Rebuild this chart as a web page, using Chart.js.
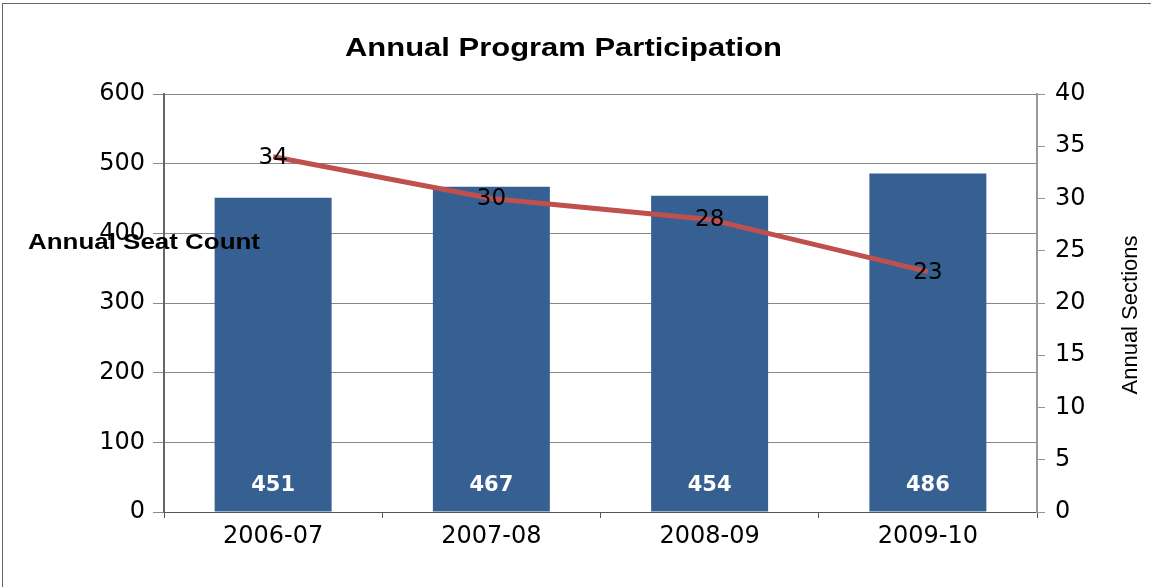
<!DOCTYPE html>
<html>
<head>
<meta charset="utf-8">
<script src="https://cdn.jsdelivr.net/npm/chart.js@4"></script>
<style>
  html, body { margin: 0; padding: 0; background: #fff; }
  canvas { display: block; }
</style>
</head>
<body>
<canvas id="participationChart" width="1151" height="587"></canvas>
<script>
// Chart data
const categories = ['2006-07', '2007-08', '2008-09', '2009-10'];
const seatCounts = [451, 467, 454, 486];
const sectionCounts = [34, 30, 28, 23];
const seatTicks = [0, 100, 200, 300, 400, 500, 600];
const sectionTicks = [0, 5, 10, 15, 20, 25, 30, 35, 40];

const chartTitle = 'Annual Program Participation';
const seatAxisTitle = 'Annual Seat Count';
const sectionAxisTitle = 'Annual Sections';

// draws text squeezed/stretched to a given width (the source image is stretched sideways)
function wideText(ctx, text, x, y, width) {
    const w = ctx.measureText(text).width;
    ctx.save();
    ctx.translate(x, y);
    ctx.scale(width / w, 1);
    ctx.fillText(text, 0, 0);
    ctx.restore();
}

const extras = {
    id: 'extras',
    afterDatasetsDraw(chart) {
        const ctx = chart.ctx;
        ctx.save();

        // bar labels, white bold near the base
        const bars = chart.getDatasetMeta(0).data;
        ctx.font = 'bold 21px "DejaVu Sans"';
        ctx.fillStyle = '#ffffff';
        ctx.textAlign = 'center';
        ctx.textBaseline = 'middle';
        bars.forEach((bar, i) => {
            ctx.fillText(String(seatCounts[i]), bar.x, chart.chartArea.bottom - 26);
        });

        // line labels, centered on the points
        const pts = chart.getDatasetMeta(1).data;
        ctx.font = '23px "DejaVu Sans"';
        ctx.fillStyle = '#000000';
        pts.forEach((p, i) => {
            ctx.fillText(String(sectionCounts[i]), p.x, p.y + 1);
        });

        // title
        ctx.font = 'bold 25px "Liberation Sans"';
        ctx.textAlign = 'left';
        ctx.textBaseline = 'alphabetic';
        wideText(ctx, chartTitle, 345, 56, 437);

        // left axis title, horizontal and over the plot
        ctx.font = 'bold 22px "Liberation Sans"';
        wideText(ctx, seatAxisTitle, 28, 249, 232);

        // right axis title, rotated
        ctx.font = '22px "Liberation Sans"';
        ctx.translate(1137, 315);
        ctx.rotate(-Math.PI / 2);
        ctx.textAlign = 'center';
        ctx.fillText(sectionAxisTitle, 0, 0);
        ctx.restore();

        // outer frame
        ctx.save();
        ctx.strokeStyle = '#666666';
        ctx.lineWidth = 1;
        ctx.strokeRect(2.5, 3.5, 1160, 600);
        ctx.restore();
    }
};

const ctx = document.getElementById('participationChart').getContext('2d');
new Chart(ctx, {
    data: {
        labels: categories,
        datasets: [
            {
                type: 'bar',
                label: seatAxisTitle,
                data: seatCounts,
                backgroundColor: '#376092',
                borderWidth: 0,
                categoryPercentage: 1,
                barPercentage: 0.536,
                yAxisID: 'y',
                order: 2
            },
            {
                type: 'line',
                label: sectionAxisTitle,
                data: sectionCounts,
                borderColor: '#C0504D',
                borderWidth: 5,
                pointRadius: 0,
                tension: 0,
                fill: false,
                yAxisID: 'y1',
                order: 1
            }
        ]
    },
    options: {
        responsive: false,
        devicePixelRatio: 1,
        animation: false,
        layout: { padding: { top: 94, left: 0, right: 0, bottom: 0 } },
        plugins: {
            legend: { display: false },
            tooltip: { enabled: false },
            title: { display: false }
        },
        scales: {
            x: {
                offset: true,
                grid: {
                    offset: true,
                    drawOnChartArea: false,
                    drawTicks: true,
                    tickLength: 6,
                    color: '#555555'
                },
                border: { color: '#555555', width: 1 },
                ticks: {
                    color: '#000000',
                    padding: 4,
                    font: { family: 'DejaVu Sans', size: 24 }
                },
                afterFit: (scale) => { scale.height = 75; }
            },
            y: {
                position: 'left',
                min: seatTicks[0],
                max: seatTicks[seatTicks.length - 1],
                afterBuildTicks: (scale) => { scale.ticks = seatTicks.map(v => ({ value: v })); },
                grid: { color: '#888888', tickLength: 11, lineWidth: 1 },
                border: { color: '#666666', width: 2 },
                ticks: {
                    color: '#000000',
                    padding: 8,
                    font: { family: 'DejaVu Sans', size: 24 }
                },
                afterFit: (scale) => { scale.width = 164; }
            },
            y1: {
                position: 'right',
                min: sectionTicks[0],
                max: sectionTicks[sectionTicks.length - 1],
                afterBuildTicks: (scale) => { scale.ticks = sectionTicks.map(v => ({ value: v })); },
                grid: { drawOnChartArea: false, color: '#999999', tickLength: 8 },
                border: { color: '#999999', width: 2 },
                ticks: {
                    color: '#000000',
                    padding: 10,
                    font: { family: 'DejaVu Sans', size: 24 }
                },
                afterFit: (scale) => { scale.width = 114; }
            }
        }
    },
    plugins: [extras]
});
</script>
</body>
</html>
